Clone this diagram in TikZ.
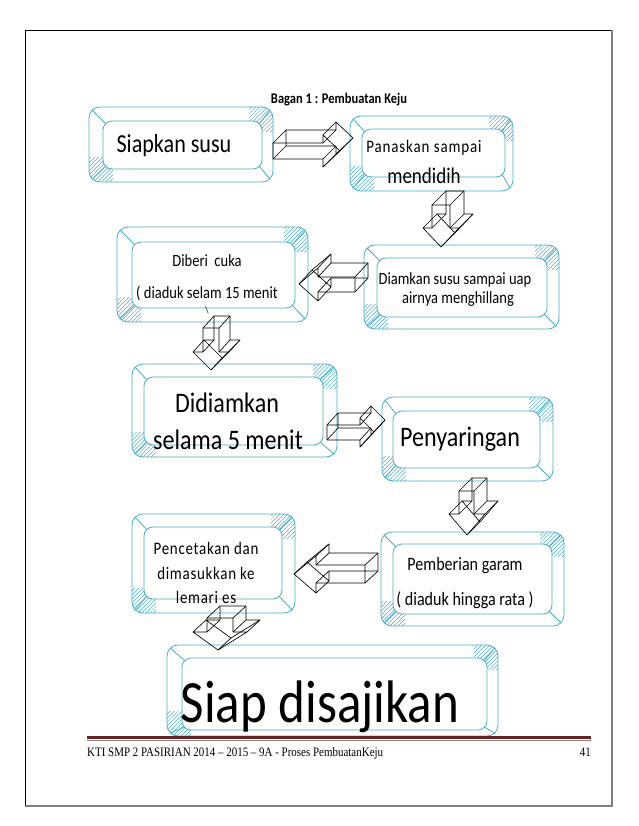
\documentclass[tikz,border=0pt]{standalone}
\usepackage{fontspec}
\setmainfont{Carlito}[FakeStretch=0.85]
\newfontfamily\footfont{Liberation Serif}[FakeStretch=0.85]
\usetikzlibrary{patterns.meta}
\definecolor{bev}{RGB}{75,172,198}
\definecolor{footred}{RGB}{98,36,35}
\tikzset{
  bevline/.style={draw=bev, line width=0.8pt},
  arw/.style={draw=black, line width=0.65pt, line join=round},
  hatch/.style={pattern={Lines[angle=45,distance=2.8pt,line width=0.5pt]}, pattern color=bev},
  txt/.style={inner sep=0pt, text=black},
}
% outer x1,y1,x2,y2 ; inner x1,y1,x2,y2 ; name
\newcommand\bevbox[9]{%
  \begin{scope}
    \clip (#3-24,#2-1) rectangle (#3+1,#2+25) (#1-1,#4-25) rectangle (#1+24,#4+1);
    \fill[hatch, even odd rule] [rounded corners=11pt] (#1,#2) rectangle (#3,#4) [rounded corners=9pt] (#5,#6) rectangle (#7,#8);
  \end{scope}
  \node[bevline, rounded corners=11pt, inner sep=0pt, outer sep=0pt,
        minimum width={(#3-#1)*1pt}, minimum height={(#4-#2)*1pt}] (#9) at ({(#1+#3)/2},{(#2+#4)/2}) {};
  \draw[bevline, rounded corners=9pt] (#5,#6) rectangle (#7,#8);
  \draw[bevline] (#1+3,#2+3) -- (#5+3,#6+3);
  \draw[bevline] (#3-3,#4-3) -- (#7-3,#8-3);
  \draw[bevline] (#3-3,#2+3) -- (#7-3,#6+3);
  \draw[bevline] (#1+3,#4-3) -- (#5+3,#8-3);
}
% first point x,y ; remaining points x/y list ; depth dx,dy
\newcommand\blockarrow[3]{%
  \draw[arw] (#1) \foreach \a/\b in {#2}{-- (\a,\b)} -- cycle;
  \draw[arw, shift={(#3)}] (#1) \foreach \a/\b in {#2}{-- (\a,\b)} -- cycle;
  \draw[arw] (#1) -- ++(#3);
  \foreach \a/\b in {#2} \draw[arw] (\a,\b) -- ++(#3);
}
\newcommand\fs[1]{\fontsize{#1}{#1}\selectfont}
\begin{document}
\begin{tikzpicture}[x=1pt,y=-1pt]
\useasboundingbox (0,0) rectangle (638,826);
\fill[white] (0,0) rectangle (638,826);
% page frame
\draw[black, line width=0.8pt] (25,30) rectangle (612,806);
\draw[gray, line width=1.2pt] (25,806) -- (612,806) -- (612,30);

% title
\node[txt, font=\bfseries\fs{14.7}] (title) at (339,100) {Bagan 1 : Pembuatan Keju};

% boxes
\bevbox{89}{107}{273}{182}{103}{121}{262}{169}{o1}
\bevbox{350}{116}{513}{191}{362}{129}{505}{177}{o2}
\bevbox{117}{227}{308}{322}{132}{242}{295}{308}{o3}
\bevbox{364}{245}{559}{329}{377}{258}{547}{317}{o4}
\bevbox{132}{364}{337}{457}{144}{377}{323}{445}{o5}
\bevbox{382}{397}{553}{481}{393}{411}{540}{468}{o6}
\bevbox{132}{514}{295}{613}{144}{527}{282}{599}{o7}
\bevbox{381}{532}{564}{626}{393}{544}{552}{614}{o8}
\bevbox{167}{645}{498}{736}{182}{658}{487}{730}{o9}

% texts
\node[txt, font=\fs{26}] (t1) at (174,146) {Siapkan susu};
\node[txt, font=\fs{17.6}\addfontfeature{LetterSpace=5}] (t2a) at (424,148) {Panaskan sampai};
\node[txt, font=\fs{22.4}] (t2b) at (424,176) {mendidih};
\node[txt, font=\fs{17.1}] (t3a) at (207,261) {Diberi\ \ cuka};
\node[txt, font=\fs{17.1}] (t3b) at (207,293) {( diaduk selam 15 menit};
\node[txt, font=\fs{10}] (t3c) at (207,310) {\textbackslash};
\node[txt, font=\fs{17.1}] (t4a) at (455,280) {Diamkan susu sampai uap};
\node[txt, font=\fs{17.1}] (t4b) at (458,299) {airnya menghillang};
\node[txt, font=\fs{28.3}] (t5a) at (227,403) {Didiamkan};
\node[txt, font=\fs{28.3}] (t5b) at (228,440) {selama 5 menit};
\node[txt, font=\fs{28.3}] (t6) at (460,439) {Penyaringan};
\node[txt, font=\fs{17.6}\addfontfeature{LetterSpace=4}] (t7a) at (206,548) {Pencetakan dan};
\node[txt, font=\fs{17.6}\addfontfeature{LetterSpace=4}] (t7b) at (206,573) {dimasukkan ke};
\node[txt, font=\fs{17.6}\addfontfeature{LetterSpace=4}] (t7c) at (206,597) {lemari es};
\node[txt, font=\fs{18.9}] (t8a) at (465,566) {Pemberian garam};
\node[txt, font=\fs{18.9}] (t8b) at (465,600) {( diaduk hingga rata )};
\node[txt, font=\fs{60}, anchor=base] (t9) at (320,722) {Siap disajikan};

% 3D block arrows
% A right
\blockarrow{273,143}{323/143, 323/135, 340/151, 323/167, 323/159, 273/159}{13,-13}
% B down
\blockarrow{432,205}{450/205, 450/228, 459/228, 441/247, 423/228, 432/228}{14,-14}
% C left
\blockarrow{355,277}{318/277, 318/268, 299/284, 318/301, 318/292, 355/292}{13,-14}
% D down
\blockarrow{203,328}{219/328, 219/352, 229/352, 211/370, 193/352, 203/352}{11,-12}
% E right
\blockarrow{327,425}{360/425, 360/418, 374/432, 360/447, 360/440, 327/440}{11,-12}
% F down
\blockarrow{459,491}{474/491, 474/514, 485/514, 467/535, 449/514, 459/514}{13,-13}
% G left
\blockarrow{365,565}{316/565, 316/556, 294/574, 316/593, 316/583, 365/583}{13,-12}
% H down
\blockarrow{207,618}{233/618, 233/632, 247/632, 218/650, 193/632, 207/632}{13,-12}

% footer
\draw[footred, line width=3pt] (87,737) -- (591,737);
\draw[footred!60, line width=0.6pt] (87,740) -- (591,740);
\node[txt, font=\footfont\fs{12.9}, anchor=base west] (foot) at (87,756) {KTI SMP 2 PASIRIAN 2014 – 2015 – 9A - Proses PembuatanKeju};
\node[txt, font=\footfont\fs{12.9}, anchor=base east] (page) at (591,756) {41};
\end{tikzpicture}
\end{document}
